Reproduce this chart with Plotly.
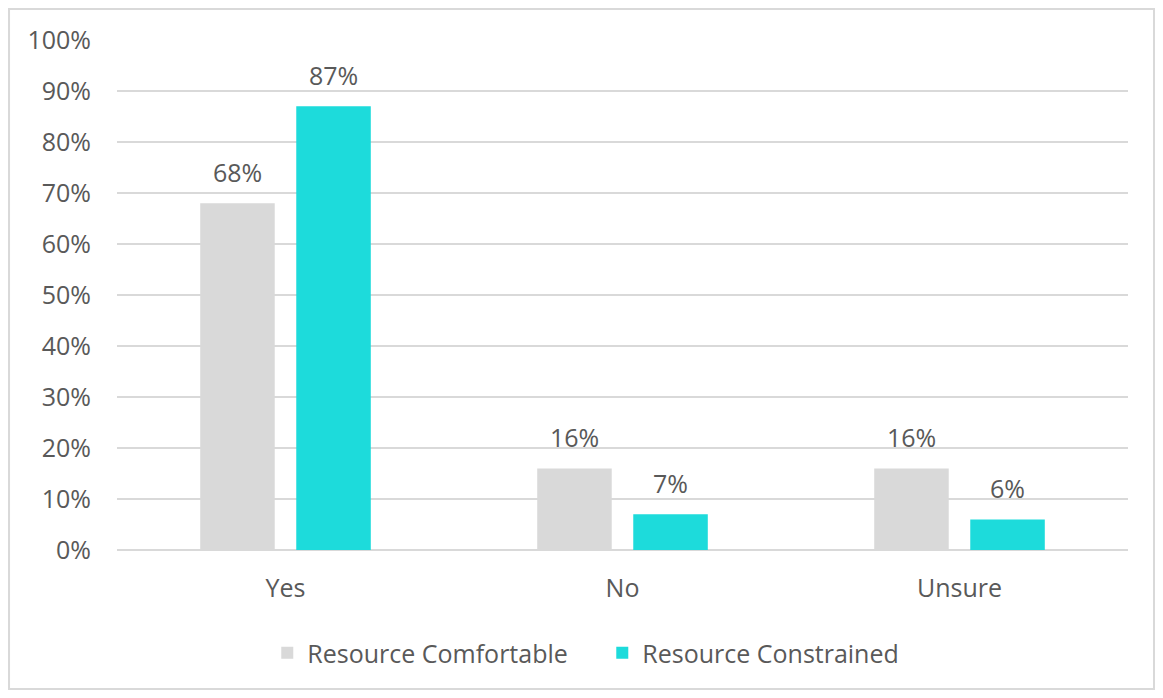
import plotly.graph_objects as go

categories = ["Yes", "No", "Unsure"]
comfortable = [68, 16, 16]
constrained = [87, 7, 6]
series_names = ["Resource Comfortable", "Resource Constrained"]
y_ticks = [0, 10, 20, 30, 40, 50, 60, 70, 80, 90, 100]
y_tick_labels = [f"{v}%" for v in y_ticks]

GRAY = "#D9D9D9"
CYAN = "#1DDBDB"
TEXT = "#595959"
FONT = "Open Sans"
FS = 25

fig = go.Figure()
fig.add_trace(go.Bar(x=categories, y=comfortable, name=series_names[0],
                     marker=dict(color=GRAY, line=dict(width=0))))
fig.add_trace(go.Bar(x=categories, y=constrained, name=series_names[1],
                     marker=dict(color=CYAN, line=dict(width=0))))

annotations = []
for vals, shift in ((comfortable, -48), (constrained, 48)):
    for c, v in zip(categories, vals):
        annotations.append(dict(x=c, y=v, text=f"{v}%", showarrow=False,
                                xshift=shift, yshift=31, yanchor="middle",
                                font=dict(family=FONT, size=FS, color=TEXT)))

# figure is placed at an 8px page offset; plot area spans px 117-1128 x, 40-550 y
fig.update_layout(
    width=1147, height=682,
    margin=dict(l=109, r=27, t=32, b=140),
    paper_bgcolor="white", plot_bgcolor="white",
    barmode="group", bargap=0.43, bargroupgap=0.224,
    font=dict(family=FONT, size=FS, color=TEXT),
    showlegend=True,
    legend=dict(orientation="h", x=0.48, xanchor="center", y=-0.202, yanchor="middle",
                font=dict(family=FONT, size=FS, color=TEXT),
                entrywidth=290, entrywidthmode="pixels",
                traceorder="normal"),
    annotations=annotations,
    shapes=[dict(type="rect", xref="paper", yref="paper",
                 x0=-0.1068, x1=1.0257, y0=-0.2725, y1=1.0608,
                 line=dict(color=GRAY, width=2), fillcolor="rgba(0,0,0,0)", layer="below")],
)
fig.update_xaxes(showgrid=False, showline=False, ticks="", zeroline=False,
                 tickfont=dict(family=FONT, size=FS, color=TEXT), ticklabelstandoff=21)
fig.update_yaxes(range=[0, 100], tickvals=y_ticks, ticktext=y_tick_labels,
                 showgrid=True, gridcolor=GRAY, gridwidth=2,
                 zeroline=True, zerolinecolor=GRAY, zerolinewidth=2,
                 showline=False, ticks="", ticklabelstandoff=25,
                 tickfont=dict(family=FONT, size=FS, color=TEXT))

fig.write_html("out.html")
